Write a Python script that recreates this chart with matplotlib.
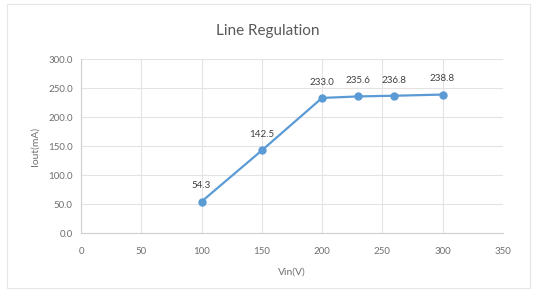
import matplotlib
matplotlib.use("Agg")
import matplotlib.pyplot as plt

vin = [100, 150, 200, 230, 260, 300]
iout = [54.3, 142.5, 233.0, 235.6, 236.8, 238.8]
x_ticks = [0, 50, 100, 150, 200, 250, 300, 350]
y_ticks = [0, 50, 100, 150, 200, 250, 300]

plt.rcParams['font.family'] = ['Lato', 'DejaVu Sans']

fig = plt.figure(figsize=(5.38, 2.91), dpi=100)
ax = fig.add_axes([0.1506, 0.199, 0.784, 0.598])

# outer chart frame like an Excel chart
fig.patches.append(plt.Rectangle((0.013, 0.01), 0.972, 0.975, transform=fig.transFigure,
                                 fill=False, edgecolor='#e6e6e6', linewidth=0.8))

line_color = '#5b9bd5'
ax.plot(vin, iout, color=line_color, linewidth=1.6, marker='o', markersize=5,
        markerfacecolor=line_color, markeredgecolor=line_color, zorder=3)
for x, y in zip(vin, iout):
    ax.annotate(f"{y:.1f}", (x, y), textcoords='offset points', xytext=(0, 8),
                ha='center', va='bottom', fontsize=7, color='#404040')

ax.set_xlim(0, 350)
ax.set_ylim(0, 300)
ax.set_xticks(x_ticks)
ax.set_yticks(y_ticks)
ax.set_yticklabels([f"{v:.1f}" for v in y_ticks])
ax.grid(True, color='#e3e3e3', linewidth=0.8)
ax.set_axisbelow(True)
for s in ['top', 'right']:
    ax.spines[s].set_visible(False)
for s in ['left', 'bottom']:
    ax.spines[s].set_color('#d0d0d0')
ax.tick_params(length=0, labelsize=7, colors='#707070')
ax.tick_params(axis='x', pad=10)
ax.tick_params(axis='y', pad=6)

fig.text(0.497, 0.893, "Line Regulation", fontsize=11, color='#595959', ha='center', va='center')
ax.set_xlabel("Vin(V)", fontsize=7.5, color='#707070', labelpad=8)
ax.set_ylabel("Iout(mA)", fontsize=7.5, color='#707070', labelpad=6)

fig.savefig("out.png", dpi=100)
